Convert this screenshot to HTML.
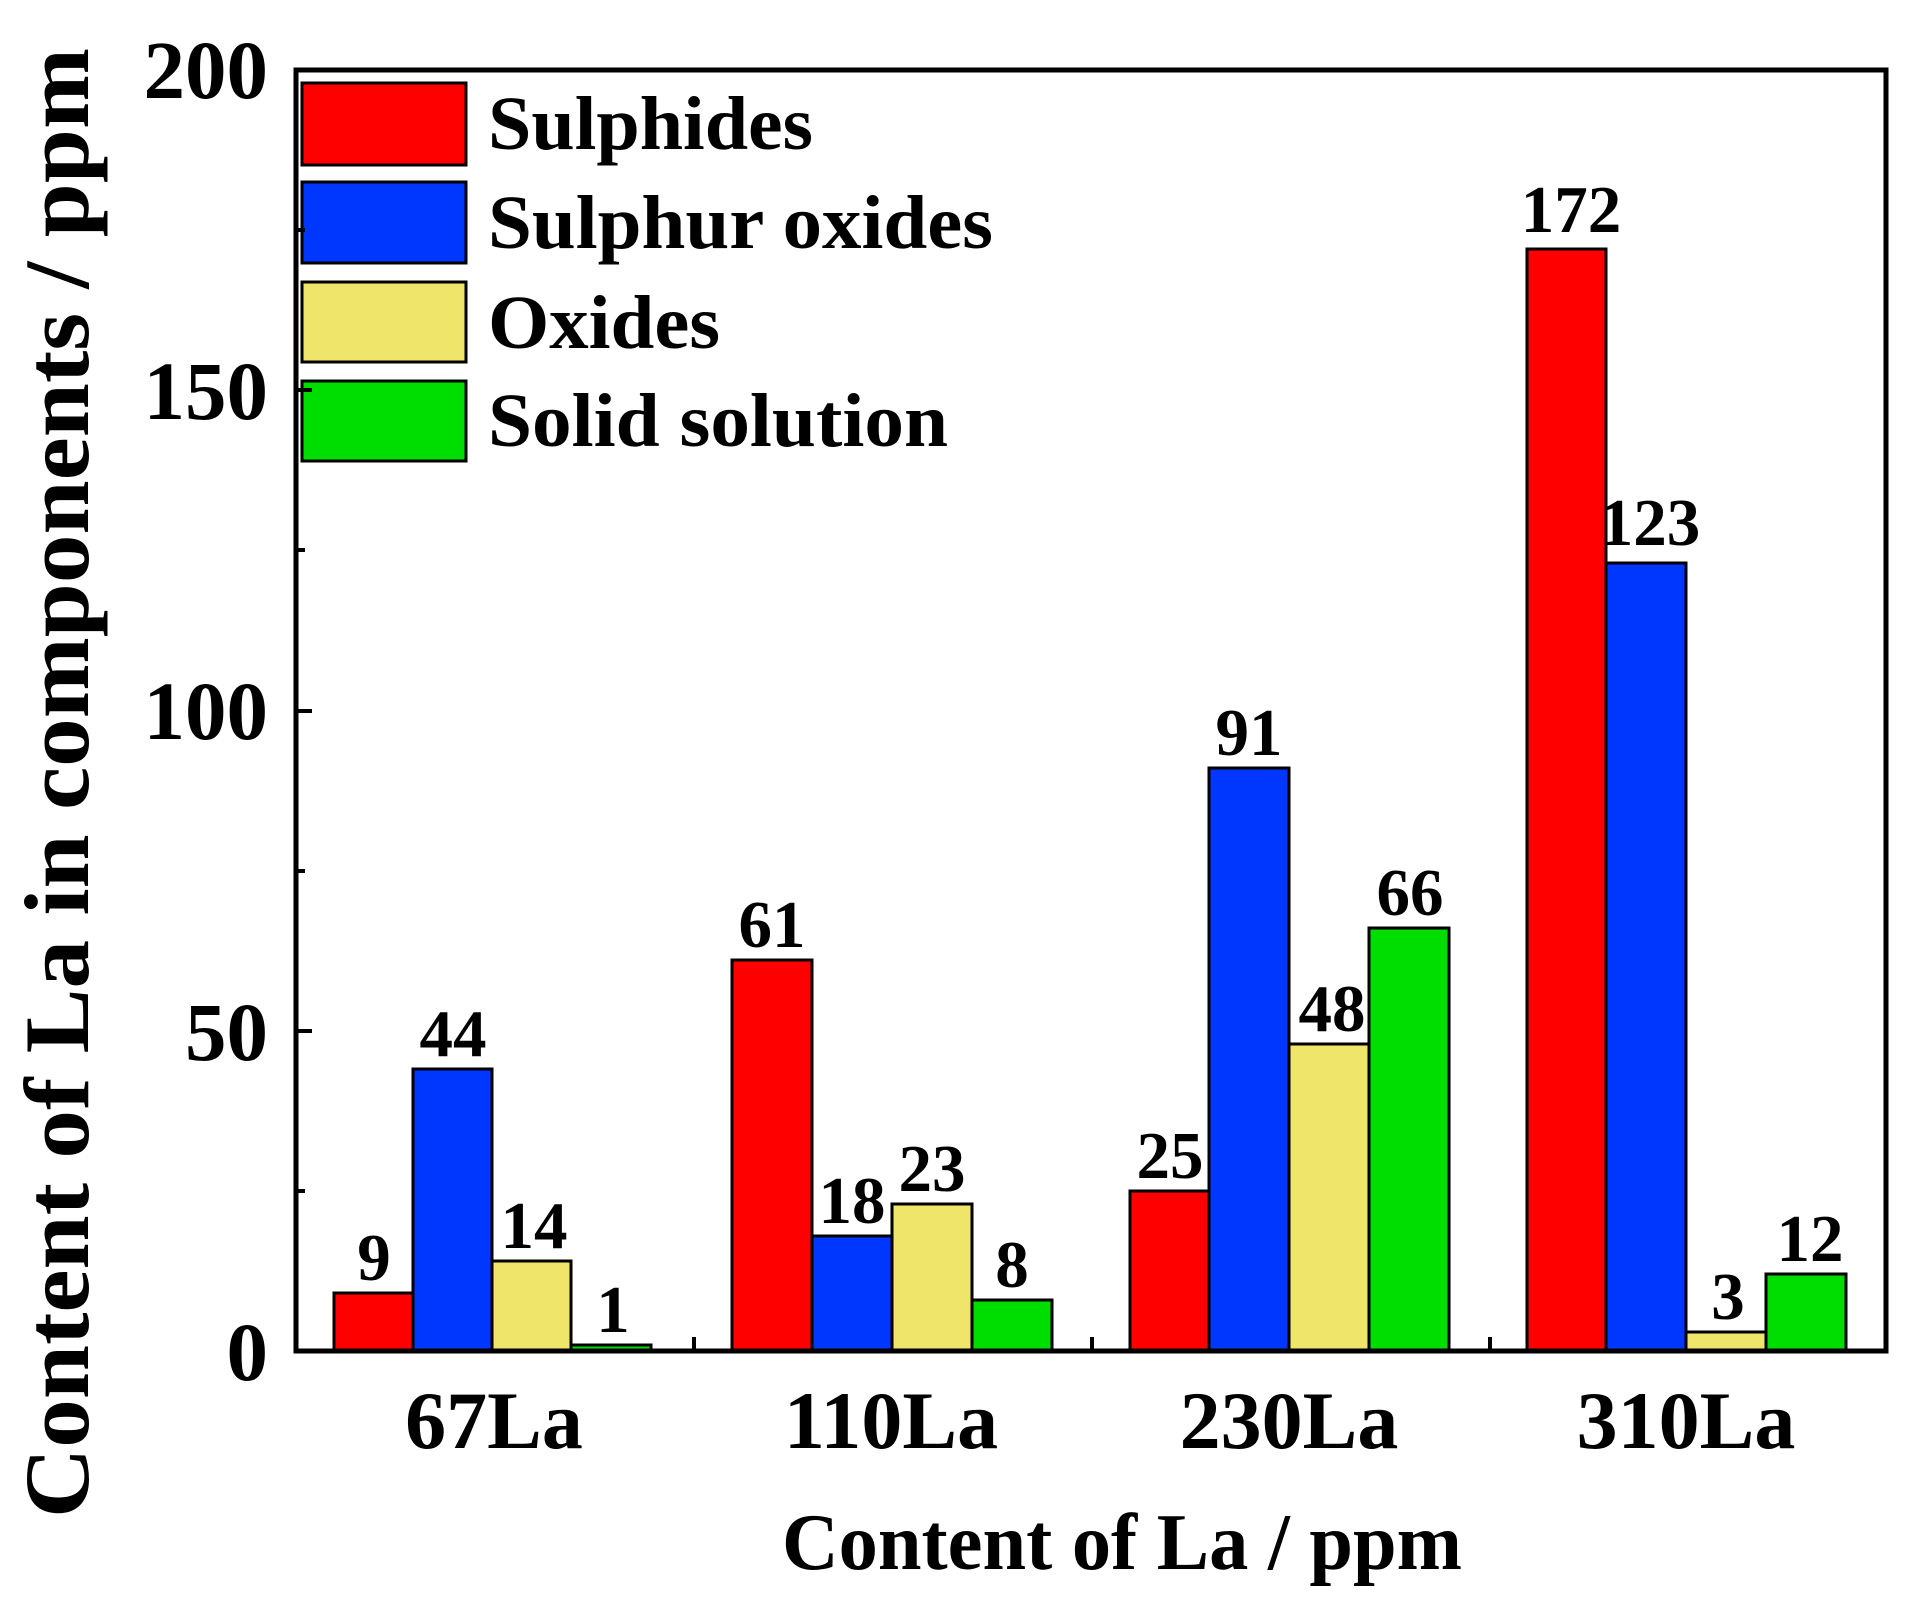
<!DOCTYPE html>
<html><head><meta charset="utf-8"><style>html,body{margin:0;padding:0;background:#fff}svg{display:block}</style></head>
<body>
<svg width="1913" height="1598" viewBox="0 0 1913 1598" xmlns="http://www.w3.org/2000/svg" font-family="'Liberation Serif',serif" font-weight="bold">
<g stroke="#000" stroke-width="3">
<rect x="334" y="1293" width="79" height="58" fill="#ff0000"/>
<rect x="413" y="1069" width="79" height="282" fill="#0037ff"/>
<rect x="492" y="1261" width="79" height="90" fill="#efe56a"/>
<rect x="571" y="1345" width="80" height="6" fill="#00dd00"/>
<rect x="732" y="960" width="80" height="391" fill="#ff0000"/>
<rect x="812" y="1236" width="80" height="115" fill="#0037ff"/>
<rect x="892" y="1204" width="80" height="147" fill="#efe56a"/>
<rect x="972" y="1300" width="80" height="51" fill="#00dd00"/>
<rect x="1130" y="1191" width="79" height="160" fill="#ff0000"/>
<rect x="1209" y="768" width="80" height="583" fill="#0037ff"/>
<rect x="1289" y="1044" width="80" height="307" fill="#efe56a"/>
<rect x="1369" y="928" width="80" height="423" fill="#00dd00"/>
<rect x="1527" y="249" width="79" height="1102" fill="#ff0000"/>
<rect x="1606" y="563" width="80" height="788" fill="#0037ff"/>
<rect x="1686" y="1332" width="80" height="19" fill="#efe56a"/>
<rect x="1766" y="1274" width="80" height="77" fill="#00dd00"/>
<rect x="302" y="83" width="164" height="82" fill="#ff0000"/>
<rect x="302" y="182" width="164" height="81" fill="#0037ff"/>
<rect x="302" y="282" width="164" height="80" fill="#efe56a"/>
<rect x="302" y="381" width="164" height="80" fill="#00dd00"/>
</g>
<rect x="296" y="70" width="1590" height="1281" fill="none" stroke="#000" stroke-width="5"/>
<g stroke="#000" stroke-width="4">
<line x1="296" y1="1031" x2="312" y2="1031"/><line x1="296" y1="711" x2="312" y2="711"/><line x1="296" y1="390" x2="312" y2="390"/>
<line x1="296" y1="1191" x2="305" y2="1191"/><line x1="296" y1="871" x2="305" y2="871"/><line x1="296" y1="550" x2="305" y2="550"/><line x1="296" y1="230" x2="305" y2="230"/>
<line x1="694" y1="1351" x2="694" y2="1337"/><line x1="1092" y1="1351" x2="1092" y2="1337"/><line x1="1490" y1="1351" x2="1490" y2="1337"/>
</g>
<g font-size="83" text-anchor="end">
<text x="268" y="98">200</text><text x="268" y="419">150</text><text x="268" y="739">100</text><text x="268" y="1060">50</text><text x="268" y="1380">0</text>
</g>
<g font-size="67" text-anchor="middle">
<text x="374" y="1280">9</text><text x="453" y="1056">44</text><text x="534" y="1248">14</text><text x="613" y="1332">1</text>
<text x="772" y="947">61</text><text x="852" y="1223">18</text><text x="932" y="1191">23</text><text x="1012" y="1287">8</text>
<text x="1170" y="1178">25</text><text x="1249" y="755">91</text><text x="1332" y="1031">48</text><text x="1410" y="915">66</text>
<text x="1571" y="232">172</text><text x="1650" y="545">123</text><text x="1728" y="1319">3</text><text x="1810" y="1261">12</text>
</g>
<g font-size="76">
<text x="488" y="149" textLength="325" lengthAdjust="spacingAndGlyphs">Sulphides</text>
<text x="488" y="248" textLength="505" lengthAdjust="spacingAndGlyphs">Sulphur oxides</text>
<text x="488" y="348" textLength="232" lengthAdjust="spacingAndGlyphs">Oxides</text>
<text x="488" y="446" textLength="460" lengthAdjust="spacingAndGlyphs">Solid solution</text>
</g>
<g font-size="82" text-anchor="middle">
<text x="494" y="1448">67La</text><text x="891" y="1448">110La</text><text x="1289" y="1448">230La</text><text x="1686" y="1448">310La</text>
<text x="1122" y="1569" font-size="80" textLength="680" lengthAdjust="spacingAndGlyphs">Content of La / ppm</text>
</g>
<text transform="translate(88,783) rotate(-90)" font-size="92" text-anchor="middle" textLength="1470" lengthAdjust="spacingAndGlyphs">Content of La in components / ppm</text>
</svg>
</body></html>
